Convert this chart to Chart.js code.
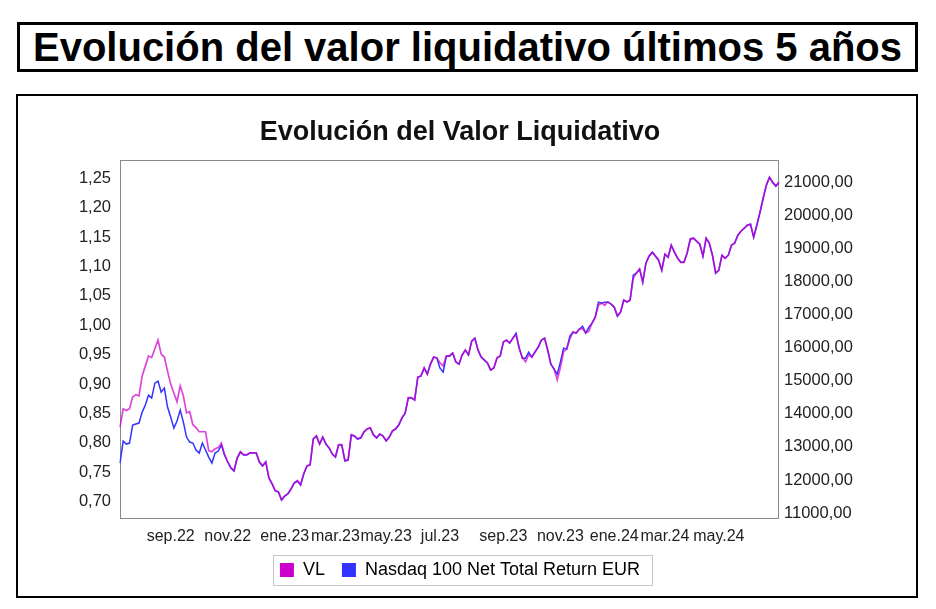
<!DOCTYPE html>
<html>
<head>
<meta charset="utf-8">
<script src="https://cdn.jsdelivr.net/npm/chart.js@4"></script>
<style>
html,body{margin:0;padding:0;background:#fff;width:936px;height:609px;overflow:hidden;}
#hdr{position:absolute;left:17px;top:22px;width:895px;height:44px;border:3px solid #000;
  font:bold 40px 'Liberation Sans',Arial,sans-serif;text-align:center;line-height:44px;color:#000;white-space:nowrap;}
#frame{position:absolute;left:16px;top:94px;width:898px;height:500px;border:2px solid #000;}
#c{display:block;}
</style>
</head>
<body>
<div id="hdr">Evolución del valor liquidativo últimos 5 años</div>
<div id="frame"><canvas id="c" width="898" height="500"></canvas></div>
<script>
// ---- data ----
const seriesNames = ['VL', 'Nasdaq 100 Net Total Return EUR'];
const xLabels = ['sep.22','nov.22','ene.23','mar.23','may.23','jul.23','sep.23','nov.23','ene.24','mar.24','may.24'];
const xLabelAt = [16, 34, 52, 68, 84, 101, 121, 139, 156, 172, 189];
const leftTicks = [0.70,0.75,0.80,0.85,0.90,0.95,1.00,1.05,1.10,1.15,1.20,1.25];
const rightTicks = [11000,12000,13000,14000,15000,16000,17000,18000,19000,20000,21000];

const vl = [0.827,0.858,0.855,0.858,0.878,0.882,0.880,0.914,0.931,0.948,
0.945,0.960,0.975,0.951,0.946,0.922,0.900,0.885,0.870,0.897,
0.880,0.851,0.853,0.831,0.826,0.819,0.819,0.819,0.787,0.785,
0.790,0.792,0.800,0.780,0.768,0.758,0.753,0.775,0.785,0.780,
0.780,0.783,0.783,0.783,0.768,0.761,0.768,0.741,0.731,0.719,
0.717,0.703,0.710,0.714,0.722,0.732,0.736,0.729,0.748,0.761,
0.763,0.807,0.812,0.798,0.810,0.798,0.792,0.781,0.776,0.797,
0.797,0.770,0.771,0.814,0.812,0.807,0.809,0.819,0.824,0.826,
0.814,0.809,0.815,0.812,0.804,0.810,0.821,0.824,0.831,0.843,
0.851,0.877,0.877,0.873,0.912,0.914,0.928,0.917,0.934,0.946,
0.945,0.936,0.931,0.948,0.948,0.953,0.938,0.934,0.950,0.958,
0.950,0.973,0.978,0.958,0.946,0.941,0.936,0.924,0.928,0.945,
0.948,0.972,0.975,0.970,0.978,0.984,0.961,0.945,0.938,0.950,
0.946,0.955,0.963,0.975,0.978,0.958,0.934,0.926,0.907,0.928,
0.955,0.960,0.977,0.989,0.987,0.994,0.994,0.987,0.990,1.004,
1.014,1.034,1.038,1.034,1.040,1.036,1.031,1.016,1.023,1.043,
1.040,1.043,1.080,1.089,1.096,1.074,1.106,1.118,1.124,1.118,
1.111,1.094,1.121,1.116,1.136,1.124,1.114,1.107,1.107,1.123,
1.147,1.148,1.143,1.138,1.118,1.148,1.140,1.119,1.089,1.094,
1.119,1.114,1.119,1.136,1.140,1.153,1.160,1.165,1.170,1.172,
1.150,1.170,1.192,1.216,1.238,1.252,1.243,1.237,1.243];

const nasdaq = [12513,13178,13087,13118,13662,13692,13723,14055,14267,14570,
14479,14933,14993,14660,14781,14207,13904,13571,13783,14116,
13753,13299,13148,13118,12906,12815,13118,12906,12694,12513,
12815,12876,13057,12755,12543,12361,12271,12664,12845,12755,
12755,12815,12815,12815,12543,12422,12543,12059,11877,11666,
11635,11393,11514,11575,11726,11908,11968,11847,12180,12422,
12452,13239,13329,13087,13299,13087,12966,12785,12694,13057,
13057,12573,12603,13360,13329,13239,13269,13450,13541,13571,
13360,13269,13390,13329,13178,13299,13481,13541,13662,13874,
14025,14479,14479,14418,15114,15144,15386,15205,15507,15719,
15689,15386,15265,15749,15749,15840,15568,15507,15780,15931,
15780,16203,16294,15931,15719,15628,15538,15326,15386,15689,
15749,16173,16233,16143,16294,16445,15991,15689,15689,15870,
15719,15870,16022,16233,16294,15931,15507,15356,15205,15568,
15991,15961,16354,16475,16445,16566,16657,16445,16627,16748,
16929,17383,17353,17383,17383,17322,17232,16959,17080,17443,
17383,17443,18200,18260,18381,17988,18563,18774,18895,18774,
18653,18351,18835,18744,19107,18895,18714,18593,18593,18865,
19289,19319,19228,19137,18774,19319,19168,18805,18260,18351,
18805,18714,18805,19107,19168,19410,19531,19621,19712,19742,
19349,19712,20105,20529,20922,21164,21013,20892,21013];

const categories = vl.map((_, i) => i);

// ---- styles ----
const FONT = "'Liberation Sans', Arial, sans-serif";
const MAGENTA = '#cc00cc';
const BLUE = '#3333ff';

const plotFrame = {
  id: 'plotFrame',
  beforeDatasetsDraw(chart) {
    const a = chart.chartArea, ctx = chart.ctx;
    ctx.save();
    ctx.strokeStyle = '#8a8a8a';
    ctx.lineWidth = 1;
    ctx.strokeRect(Math.round(a.left) + 0.5, Math.round(a.top) + 0.5,
                   Math.round(a.right - a.left) - 1, Math.round(a.bottom - a.top));
    ctx.restore();
  }
};
const legendBox = {
  id: 'legendBox',
  afterDraw(chart) {
    const hb = chart.legend && chart.legend.legendHitBoxes;
    if (!hb || !hb.length) return;
    const first = hb[0], last = hb[hb.length - 1];
    const ctx = chart.ctx;
    ctx.save();
    ctx.strokeStyle = '#c8c8c8';
    ctx.lineWidth = 1;
    const x0 = Math.round(first.left - 7) + 0.5;
    const x1 = Math.round(last.left + last.width + 12) + 0.5;
    const y0 = Math.round(first.top - 6) + 0.5;
    const y1 = Math.round(first.top + first.height + 6) + 0.5;
    ctx.strokeRect(x0, y0, x1 - x0, y1 - y0);
    ctx.restore();
  }
};

const fmt = v => Number(v).toFixed(2).replace('.', ',');

new Chart(document.getElementById('c'), {
  type: 'line',
  data: {
    labels: categories,
    datasets: [
      { label: seriesNames[0], data: vl, yAxisID: 'yL',
        borderColor: 'rgba(204,0,204,0.72)', backgroundColor: MAGENTA,
        borderWidth: 1.7, pointRadius: 0, tension: 0 },
      { label: seriesNames[1], data: nasdaq, yAxisID: 'yR',
        borderColor: BLUE, backgroundColor: BLUE,
        borderWidth: 1.5, pointRadius: 0, tension: 0 }
    ]
  },
  options: {
    responsive: false,
    animation: false,
    devicePixelRatio: 1,
    layout: { padding: { left: 0, right: 14, top: 0, bottom: 7 } },
    plugins: {
      title: { display: true, text: 'Evolución del Valor Liquidativo', color: '#111',
               font: { family: FONT, size: 27, weight: 'bold' }, padding: { top: 20, bottom: 11.6 } },
      legend: { position: 'bottom',
        labels: { color: '#111', font: { family: FONT, size: 18 }, boxWidth: 14, boxHeight: 14, padding: 17,
          generateLabels: (chart) => chart.data.datasets.map((d, i) => ({
            text: d.label, fillStyle: d.backgroundColor, strokeStyle: d.backgroundColor,
            lineWidth: 0, hidden: false, datasetIndex: i })) } },
      tooltip: { enabled: false }
    },
    scales: {
      x: { type: 'category', grid: { display: false, drawTicks: false }, border: { display: false },
           afterFit(s) { s.height = 26; },
           ticks: { autoSkip: false, maxRotation: 0, minRotation: 0, padding: 9, color: '#222',
                    font: { family: FONT, size: 16 },
                    callback: (v, idx) => { const k = xLabelAt.indexOf(idx); return k >= 0 ? xLabels[k] : ''; } } },
      yL: { position: 'left', min: 0.6723, max: 1.2811,
            grid: { display: false, drawTicks: false }, border: { display: false },
            afterFit(s) { s.width = 102; },
            afterBuildTicks(s) { s.ticks = leftTicks.map(v => ({ value: v })); },
            ticks: { padding: 9, color: '#222', font: { family: FONT, size: 16.5 }, callback: fmt } },
      yR: { position: 'right', min: 10849, max: 21687,
            grid: { display: false, drawTicks: false }, border: { display: false },
            afterFit(s) { s.width = 123; },
            afterBuildTicks(s) { s.ticks = rightTicks.map(v => ({ value: v })); },
            ticks: { padding: 5, color: '#222', font: { family: FONT, size: 16.5 }, callback: fmt } }
    }
  },
  plugins: [plotFrame, legendBox]
});
</script>
</body>
</html>
